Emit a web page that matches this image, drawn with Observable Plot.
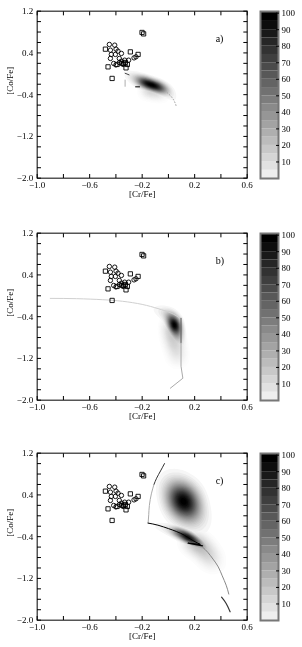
<!DOCTYPE html>
<html><head><meta charset="utf-8">
<script src="https://cdn.jsdelivr.net/npm/d3@7"></script>
<script src="https://cdn.jsdelivr.net/npm/@observablehq/plot@0.6"></script>
<style>
body{margin:0;background:#fff;font-family:"Liberation Serif",serif;}
#root{position:relative;width:302px;height:647px;overflow:hidden;background:#fff;isolation:isolate;}
.blk{position:absolute;left:0;width:302px;height:221px;}
.blk svg{position:absolute;top:0;}
.layer{mix-blend-mode:darken;}
</style></head><body><div id="root"></div>
<script>
// ---- axes ----
const xDomain = [-1.0, 0.6];
const yDomain = [-2.0, 1.2];
const xTickLabels = [-1.0, -0.6, -0.2, 0.2, 0.6];
const xTickMarks = [-1.0, -0.8, -0.6, -0.4, -0.2, 0.0, 0.2, 0.4, 0.6];
const yTickLabels = [1.2, 0.4, -0.4, -1.2, -2.0];
const yTickMarks = [1.2, 1.0, 0.8, 0.6, 0.4, 0.2, 0.0, -0.2, -0.4, -0.6, -0.8, -1.0, -1.2, -1.4, -1.6, -1.8, -2.0];
const xLabel = "[Cr/Fe]";
const yLabel = "[Co/Fe]";
const panelLabels = ["a)", "b)", "c)"];
const panelLabelPos = [0.36, 0.68];
const cbLevels = [0,5,10,15,20,25,30,35,40,45,50,55,60,65,70,75,80,85,90,95,101];
const cbTicks = [10,20,30,40,50,60,70,80,90,100];

// ---- observed stars (same in every panel) ----
const obsCircles = [
 [-0.450,0.562],[-0.409,0.549],[-0.399,0.472],[-0.442,0.453],[-0.384,0.434],[-0.358,0.390],
 [-0.435,0.371],[-0.404,0.371],[-0.247,0.325],[-0.262,0.305],[-0.442,0.294],[-0.374,0.294],
 [-0.358,0.242],[-0.333,0.261],[-0.303,0.261],[-0.417,0.198],[-0.358,0.198],[-0.400,0.170],
 [-0.345,0.180],[-0.373,0.215]
];
const obsSquares = [
 [-0.201,0.792],[-0.189,0.765],[-0.480,0.472],[-0.290,0.420],[-0.231,0.371],[-0.460,0.133],
 [-0.323,0.114],[-0.429,-0.089],[-0.391,0.179],[-0.328,0.217],[-0.313,0.179],[-0.340,0.200]
];

// ---- model density (x, y, weight) ----
const densA = [
 [-0.32,-0.01,0.6],[-0.295,-0.035,0.9],[-0.27,-0.065,1.5],[-0.245,-0.095,3],[-0.22,-0.125,5],
 [-0.195,-0.15,8],[-0.17,-0.175,10],[-0.145,-0.2,10],[-0.12,-0.22,10],[-0.095,-0.24,10],
 [-0.07,-0.265,8.5],[-0.045,-0.29,6],[-0.02,-0.315,3.5],[0.0,-0.345,1.8],[0.02,-0.39,0.9],
 [0.035,-0.44,0.5],[0.05,-0.5,0.3],[0.06,-0.57,0.2]
];
const densAHalo = [[-0.16,-0.31,3],[-0.11,-0.34,3],[-0.06,-0.37,2]];
const densB = [
 [-0.14,-0.23,0.3],[-0.11,-0.25,0.45],[-0.085,-0.27,0.6],[-0.06,-0.29,0.9],[-0.04,-0.31,1.3],
 [-0.02,-0.335,1.9],[0.0,-0.36,2.7],[0.015,-0.395,3.8],[0.025,-0.43,5],[0.033,-0.47,7],
 [0.04,-0.51,9],[0.045,-0.55,10],[0.05,-0.59,9.5],[0.055,-0.63,8],[0.06,-0.68,6.5],
 [0.065,-0.73,5],[0.07,-0.79,3.8],[0.074,-0.85,2.8],[0.078,-0.92,2],[0.082,-1.0,1.4],
 [0.085,-1.08,1],[0.088,-1.17,0.7],[0.09,-1.26,0.45]
];
const densBHalo = [[0.02,-0.6,4],[0.03,-0.75,4],[0.045,-0.9,3.5],[0.06,-1.05,2.5],[0.07,-1.2,1.5]];
const densCBlob = [
 [0.011,0.715,1],[0.037,0.605,3],[0.063,0.495,9],[0.089,0.385,20],[0.115,0.275,30],
 [0.141,0.165,20],[0.167,0.055,9],[0.193,-0.055,4],[0.219,-0.165,1.5],[0.245,-0.275,0.6]
];
const densCBand = [
 [-0.10,-0.185,0.15],[-0.07,-0.205,0.22],[-0.04,-0.225,0.3],[-0.01,-0.25,0.45],[0.015,-0.265,0.65],
 [0.04,-0.285,0.95],[0.06,-0.305,1.3],[0.08,-0.325,1.7],[0.10,-0.35,2.1],[0.12,-0.375,2.5],
 [0.14,-0.40,2.75],[0.16,-0.43,2.75],[0.18,-0.455,2.5],[0.20,-0.485,2.15],[0.22,-0.515,1.75],
 [0.24,-0.545,1.35],[0.26,-0.58,1.0],[0.275,-0.615,0.75],[0.29,-0.655,0.55],[0.305,-0.695,0.4],
 [0.32,-0.74,0.3],[0.335,-0.79,0.22],[0.35,-0.84,0.17],[0.365,-0.89,0.13],[0.38,-0.94,0.1]
];
const densCHalo = [[0.18,-0.48,3],[0.23,-0.56,3],[0.27,-0.65,2.5],[0.31,-0.76,1.8],[0.34,-0.88,1.2]];

// ---- model track lines ----
const aStart = [[-0.33,0.01],[-0.30,-0.02]];
const aTick = [[-0.33,-0.12],[-0.33,-0.24]];
const aDash = [[-0.25,-0.25],[-0.22,-0.25]];
const aTail = [[-0.01,-0.36],[0.02,-0.43],[0.04,-0.5],[0.055,-0.58],[0.06,-0.63]];
const bTop = [[-0.9,-0.05],[-0.7,-0.055],[-0.5,-0.075],[-0.35,-0.105],[-0.2,-0.165],[-0.08,-0.245],[0.02,-0.33],[0.09,-0.43]];
const bEdge1 = [[0.096,-0.43],[0.096,-0.9]];
const bEdge2 = [[0.096,-0.9],[0.096,-1.35],[0.11,-1.58],[0.015,-1.77]];
const cTop1 = [[-0.03,1.0],[-0.06,0.86],[-0.09,0.72],[-0.11,0.6]];
const cTop2 = [[-0.11,0.6],[-0.13,0.42],[-0.145,0.2],[-0.15,0.02],[-0.155,-0.14]];
const cEdge = [[-0.155,-0.14],[-0.08,-0.18],[0.0,-0.245],[0.06,-0.3],[0.12,-0.37],[0.17,-0.45],[0.24,-0.545]];
const cZ = [[0.24,-0.545],[0.15,-0.525],[0.26,-0.575]];
const cTail = [[0.26,-0.6],[0.3,-0.7],[0.34,-0.83],[0.38,-0.98],[0.41,-1.15],[0.44,-1.33],[0.46,-1.5]];
const cEnd = [[0.405,-1.56],[0.44,-1.68],[0.47,-1.84]];

// each density layer gets its own grey ramp (white → peak)
const panels = [
 {top:0, dens:[{data:densAHalo,bw:4,peak:"#d4d4d4"},{data:densA,bw:3,peak:"#000"}],
  lines:[{data:aStart,stroke:"#444",w:1},{data:aTick,stroke:"#999",w:0.8},{data:aDash,stroke:"#000",w:1},{data:aTail,stroke:"#aaa",w:1,dash:[1,2]}]},
 {top:222, dens:[{data:densBHalo,bw:5,peak:"#c8c8c8"},{data:densB,bw:3.5,peak:"#000"}],
  lines:[{data:bTop,stroke:"#d0d0d0",w:1,curve:"natural"},{data:bEdge1,stroke:"#555",w:1},{data:bEdge2,stroke:"#aaa",w:1}]},
 {top:442, dens:[{data:densCBlob,bw:9,peak:"#000"},{data:densCHalo,bw:6,peak:"#bbbbbb"},{data:densCBand,bw:2.8,peak:"#111"}],
  lines:[{data:cTop1,stroke:"#333",w:1,curve:"natural"},{data:cTop2,stroke:"#aaa",w:1,curve:"natural"},
         {data:cEdge,stroke:"#000",w:1,curve:"natural"},{data:cZ,stroke:"#000",w:1.2},
         {data:cTail,stroke:"#888",w:1,curve:"natural"},{data:cEnd,stroke:"#333",w:1.2,curve:"natural"}]}
];

// main plots are drawn at S× size and shown at 1× (finer density grid)
const S = 3;
const W = 255, H = 221, MT = 11, MB = 43, ML = 37, MR = 8;
const fmt = d3.format(".1f");
const fontFam = '"Liberation Serif", "Times New Roman", serif';
const px = d => d[0], py = d => d[1];
const frameOpts = {
  width:W * S, height:H * S, marginTop:MT * S, marginBottom:MB * S, marginLeft:ML * S, marginRight:MR * S,
  style:{fontFamily:fontFam, fontSize:(9 * S) + "px", background:"transparent", overflow:"visible"},
  x:{domain:xDomain, axis:null},
  y:{domain:yDomain, axis:null}
};
function shrink(svg) {
  svg.setAttribute("width", W);
  svg.setAttribute("height", H);
  svg.setAttribute("viewBox", `0 0 ${W * S} ${H * S}`);
  svg.style.width = W + "px";
  svg.style.height = H + "px";
  svg.style.maxWidth = "none";
  svg.style.left = "0px";
  return svg;
}

const root = document.getElementById("root");
panels.forEach((p, i) => {
  const blk = document.createElement("div");
  blk.className = "blk";
  blk.style.top = p.top + "px";
  root.appendChild(blk);

  // density layers
  for (const ds of p.dens) {
    const layer = Plot.plot({
      ...frameOpts,
      color:{type:"linear", range:["#ffffff", ds.peak], zero:true},
      marks:[Plot.density(ds.data, {x:px, y:py, weight:d => d[2], bandwidth:ds.bw * S, thresholds:28,
        fill:"density", stroke:"none", clip:true})]
    });
    shrink(layer).classList.add("layer");
    blk.appendChild(layer);
  }

  const marks = [];
  for (const l of p.lines) {
    marks.push(Plot.line(l.data, {x:px, y:py, stroke:l.stroke, strokeWidth:l.w * S, curve:l.curve || "linear",
      strokeDasharray:l.dash ? l.dash.map(v => v * S).join(",") : undefined, clip:true}));
  }
  marks.push(Plot.dot(obsCircles, {x:px, y:py, r:2.2 * S, stroke:"#000", strokeWidth:0.9 * S, fill:"none"}));
  marks.push(Plot.dot(obsSquares, {x:px, y:py, r:2.4 * S, symbol:"square", stroke:"#000", strokeWidth:0.9 * S, fill:"none"}));
  marks.push(Plot.text([panelLabels[i]], {x:panelLabelPos[0], y:panelLabelPos[1], text:d => d, fontSize:10 * S, textAnchor:"start"}));
  marks.push(Plot.frame({stroke:"#000", strokeWidth:S}));
  for (const a of ["bottom", "top"])
    marks.push(Plot.axisX({anchor:a, ticks:xTickMarks, tickSize:-4 * S, strokeWidth:S, text:null, label:null}));
  for (const a of ["left", "right"])
    marks.push(Plot.axisY({anchor:a, ticks:yTickMarks, tickSize:-4 * S, strokeWidth:S, text:null, label:null}));
  marks.push(Plot.axisX({anchor:"bottom", ticks:xTickLabels, tickSize:0, tickPadding:3 * S, tickFormat:fmt, label:null, fontSize:9 * S}));
  marks.push(Plot.axisY({anchor:"left", ticks:yTickLabels, tickSize:0, tickPadding:4 * S, tickFormat:fmt, label:null, fontSize:9 * S}));
  marks.push(Plot.text([xLabel], {frameAnchor:"bottom", dy:19 * S, text:d => d, fontSize:9 * S}));
  marks.push(Plot.text([yLabel], {frameAnchor:"left", dx:-27 * S, rotate:-90, text:d => d, fontSize:9 * S}));

  const main = Plot.plot({...frameOpts, marks});
  blk.appendChild(shrink(main));

  const bins = d3.pairs(cbLevels);
  const cb = Plot.plot({
    width:54, height:H, marginTop:MT, marginBottom:MB, marginLeft:12, marginRight:24,
    style:{fontFamily:fontFam, fontSize:"9px", background:"transparent", overflow:"visible"},
    x:{domain:[0,1], axis:null},
    y:{domain:[0,101], axis:null},
    color:{type:"linear", domain:[0,100], range:["#fafafa","#000000"], clamp:true},
    marks:[
      Plot.rect(bins, {x1:0, x2:1, y1:d => d[0], y2:d => d[1], fill:d => d[1]}),
      Plot.frame({stroke:"#777", strokeWidth:2}),
      Plot.axisY({anchor:"right", ticks:cbTicks, tickSize:-3, tickPadding:6, label:null, fontSize:9})
    ]
  });
  cb.style.left = "248px";
  blk.appendChild(cb);
});
</script>
</body></html>
